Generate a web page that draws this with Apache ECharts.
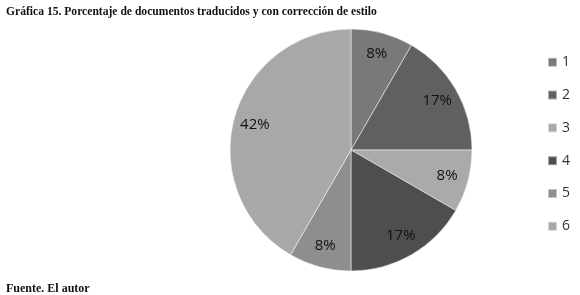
<!DOCTYPE html>
<html><head><meta charset="utf-8">
<script src="https://cdn.jsdelivr.net/npm/echarts@6/dist/echarts.min.js"></script>
<style>html,body{margin:0;padding:0;background:#fff}#c{width:580px;height:295px}</style>
</head><body><div id="c"></div>
<script>
const categories = ['1','2','3','4','5','6'];
const values = [1, 2, 1, 2, 1, 5];
const labels = ['8%','17%','8%','17%','8%','42%'];
const colors = ['#79797b','#606062','#aaaaac','#4e4e50','#8e8e90','#a8a8aa'];

const chart = echarts.init(document.getElementById('c'));
const main = categories.map((c,i)=>({name:c, value:values[i], itemStyle:{color:colors[i]}}));
const overlay = categories.map((c,i)=>({name:c, value:values[i], label:{formatter:labels[i]}}));
chart.setOption({
  animation:false,
  title:[
    {text:'Gráfica 15. Porcentaje de documentos traducidos y con corrección de estilo', left:1, top:1,
     textStyle:{fontFamily:'Liberation Serif', fontWeight:'bold', fontSize:11.6, color:'#111'}},
    {text:'Fuente. El autor', left:1, top:278,
     textStyle:{fontFamily:'Liberation Serif', fontWeight:'bold', fontSize:12, color:'#111'}}
  ],
  legend:{orient:'vertical', left:542, top:48, itemWidth:9, itemHeight:9, itemGap:14.3,
    icon:'rect', data:categories,
    textStyle:{fontFamily:'Open Sans', fontSize:14, color:'#333', lineHeight:18.5}},
  series:[
    {type:'pie', center:[351,150], radius:121, startAngle:90, clockwise:true,
     data:main, label:{show:false}, labelLine:{show:false},
     itemStyle:{borderColor:'rgba(255,255,255,0.5)', borderWidth:1},
     emphasis:{disabled:true}},
    {type:'pie', center:[351,150], radius:[72,121], startAngle:90, clockwise:true,
     data:overlay, silent:true, legendHoverLink:false,
     itemStyle:{color:'rgba(0,0,0,0)'},
     label:{show:true, position:'inside', fontFamily:'Open Sans', fontSize:15, color:'#111'},
     labelLine:{show:false}, emphasis:{disabled:true}}
  ]
});
</script></body></html>
